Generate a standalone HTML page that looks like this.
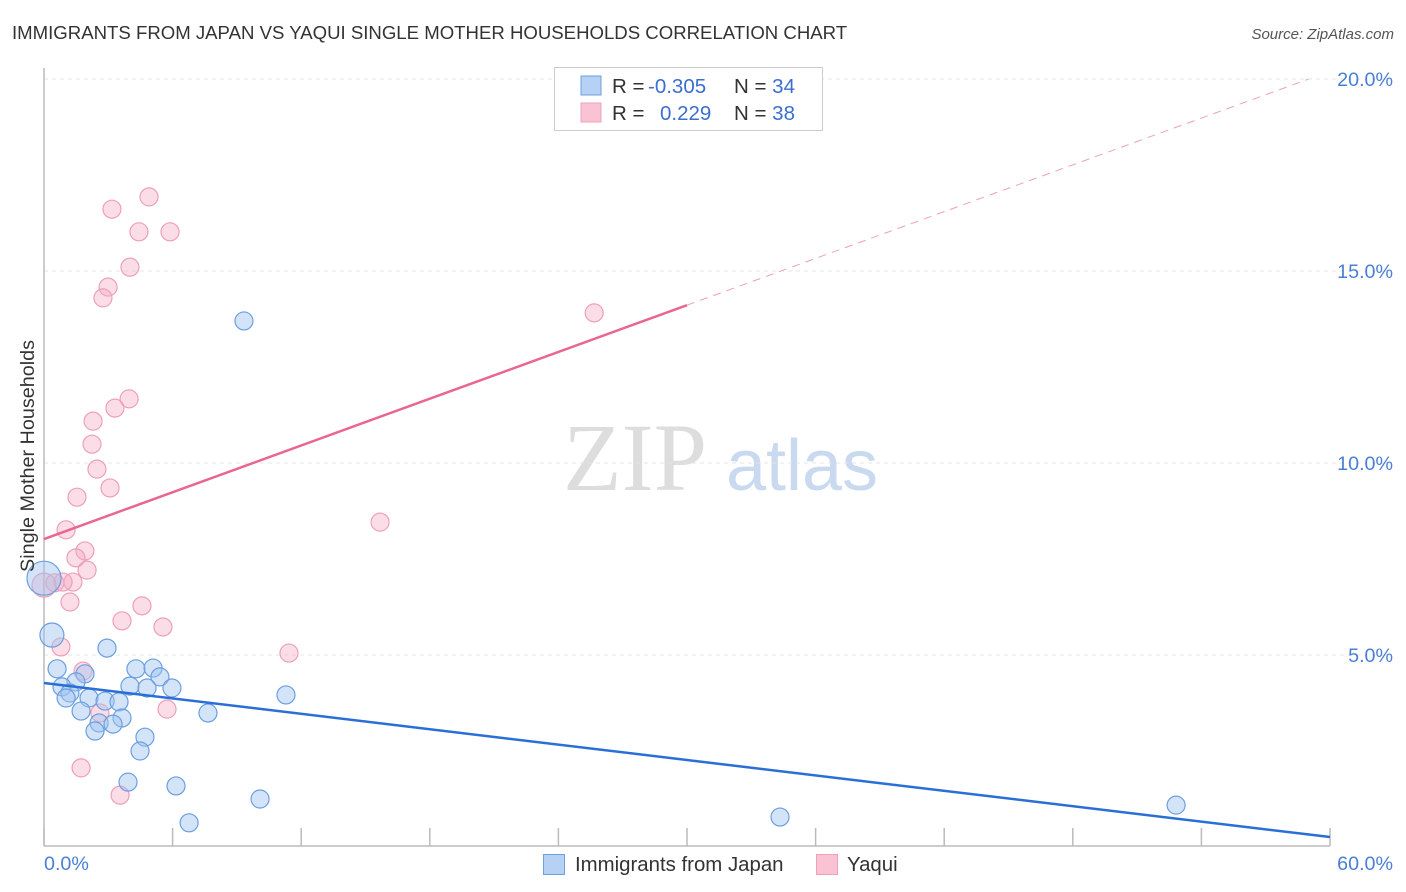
<!DOCTYPE html>
<html><head><meta charset="utf-8"><style>
body{margin:0;background:#fff;font-family:"Liberation Sans",sans-serif;}
svg{display:block}
</style></head><body>
<svg id="chart" width="1406" height="892">
<text x="12" y="39" font-size="18.6" fill="#333">IMMIGRANTS FROM JAPAN VS YAQUI SINGLE MOTHER HOUSEHOLDS CORRELATION CHART</text>
<text x="1394" y="39" font-size="15" fill="#555" font-style="italic" text-anchor="end">Source: ZipAtlas.com</text>
<g>
<text x="635" y="490" font-size="96" fill="#ddd" font-family="Liberation Serif,serif" text-anchor="middle">ZIP</text>
<text x="802" y="490" font-size="72" fill="#c9daf0" text-anchor="middle">atlas</text>
</g>
<g id="grid"></g>
<g id="axes"></g>
<g id="marks"></g>
<text transform="translate(34,456) rotate(-90)" font-size="19.8" fill="#333" text-anchor="middle">Single Mother Households</text>
<g>
<rect x="554.5" y="67.5" width="268" height="63" fill="#fff" stroke="#ccc"/>
<rect x="581" y="76" width="20" height="19" fill="#b7d1f4" stroke="#6a9fe0"/>
<rect x="581" y="103" width="20" height="19" fill="#f9c3d3" stroke="#eea0b8"/>
<text x="612" y="93" font-size="20.5" fill="#333">R = <tspan fill="#3a6fd0" x="648">-0.305</tspan></text>
<text x="734" y="93" font-size="20.5" fill="#333">N = <tspan fill="#3a6fd0">34</tspan></text>
<text x="612" y="120" font-size="20.5" fill="#333">R = <tspan fill="#3a6fd0" x="660">0.229</tspan></text>
<text x="734" y="120" font-size="20.5" fill="#333">N = <tspan fill="#3a6fd0">38</tspan></text>
</g>
<g>
<rect x="543.5" y="854.5" width="21" height="20" fill="#b7d1f4" stroke="#6a9fe0"/>
<text x="575" y="871" font-size="20.4" fill="#333">Immigrants from Japan</text>
<rect x="816.5" y="854.5" width="21" height="20" fill="#f9c3d3" stroke="#eea0b8"/>
<text x="847" y="871" font-size="20.4" fill="#333">Yaqui</text>
</g>
</svg>
<script>
const yTicks=[5,10,15,20];
const yTickLabels=["5.0%","10.0%","15.0%","20.0%"];
const xTicks=[0,6,12,18,24,30,36,42,48,54,60];
const japanX=[0,0.37,2.94,0.61,1.91,1.49,0.84,1.21,1.03,4.29,5.09,5.41,4.01,4.81,5.97,2.10,2.85,3.50,1.73,3.64,2.57,3.22,2.38,4.71,4.48,7.65,11.29,3.92,6.16,10.08,6.77,9.33,34.34,52.82];
const japanY=[7.0,5.52,5.18,4.64,4.51,4.30,4.17,4.01,3.88,4.64,4.66,4.43,4.19,4.14,4.14,3.88,3.80,3.78,3.54,3.36,3.23,3.20,3.02,2.86,2.50,3.49,3.96,1.69,1.59,1.25,0.63,13.70,0.78,1.09];
const japanR=[17,12,9,9,9,9,9,9,9,9,9,9,9,9,9,9,9,9,9,9,9,9,9,9,9,9,9,9,9,9,9,9,9,9];
const yaquiX=[0,1.91,1.49,2.01,0.51,1.35,0.89,1.21,4.57,3.64,5.55,0.79,11.43,1.82,5.74,2.61,1.73,3.55,4.90,3.17,4.43,5.88,4.01,2.99,2.75,25.67,3.97,3.31,2.29,2.24,2.47,3.08,1.54,1.03,15.68];
const yaquiY=[6.82,7.71,7.53,7.21,6.88,6.90,6.90,6.38,6.28,5.89,5.73,5.21,5.05,4.58,3.59,3.49,2.06,1.35,16.93,16.61,16.02,16.02,15.10,14.58,14.30,13.91,11.67,11.43,11.09,10.49,9.84,9.35,9.11,8.26,8.46];
const japanTrend=[4.27,0.26];
const yaquiTrend=[8.02,20.2];
const NS="http://www.w3.org/2000/svg";
const X=v=>44+v*(1286/60);
const Y=v=>847-v*38.4;
function mk(tag,attrs,parent){const e=document.createElementNS(NS,tag);for(const k in attrs)e.setAttribute(k,attrs[k]);document.getElementById(parent).appendChild(e);return e;}
yTicks.forEach((t,i)=>{
 const g=mk('line',{x1:44,x2:1394,y1:Y(t),y2:Y(t),stroke:'#e4e4e4','stroke-dasharray':'4,4'},'grid');
 
 
 const l=mk('text',{x:1393,y:Y(t)+7,'font-size':19.7,fill:'#4a7fd6','text-anchor':'end'},'axes');
 l.textContent=yTickLabels[i];
 
 
});
const ax=mk('line',{x1:44,x2:44,y1:68,y2:846,stroke:'#bbb','stroke-width':1.5},'axes');


const bx=mk('line',{x1:44,x2:1330,y1:846,y2:846,stroke:'#bbb','stroke-width':1.5},'axes');


xTicks.forEach(t=>{
 const tk=mk('line',{x1:X(t),x2:X(t),y1:828,y2:846,stroke:'#bbb','stroke-width':1.5},'axes');
 
 
});
const x0=mk('text',{x:44,y:870,'font-size':19.7,fill:'#4a7fd6'},'axes');x0.textContent='0.0%';


const x1=mk('text',{x:1393,y:870,'font-size':19.7,fill:'#4a7fd6','text-anchor':'end'},'axes');x1.textContent='60.0%';


yaquiX.forEach((x,i)=>{
 const c=mk('circle',{cx:X(x),cy:Y(yaquiY[i]),r:i==0?12:9,fill:'rgba(245,170,195,0.4)',stroke:'#eea0b8','stroke-width':1.2},'marks');
 
 
});
japanX.forEach((x,i)=>{
 const c=mk('circle',{cx:X(x),cy:Y(japanY[i]),r:japanR[i],fill:'rgba(160,196,240,0.45)',stroke:'#6a9fe0','stroke-width':1.2},'marks');
 
 
});
const jl=mk('line',{x1:X(0),y1:Y(japanTrend[0]),x2:X(60),y2:Y(japanTrend[1]),stroke:'#2a6fd6','stroke-width':2.5},'marks');


const ym=yaquiTrend[0]+(yaquiTrend[1]-yaquiTrend[0])*0.5;
const yl=mk('line',{x1:X(0),y1:Y(yaquiTrend[0]),x2:X(30),y2:Y(ym),stroke:'#e8668f','stroke-width':2.5},'marks');


const yd=mk('line',{x1:X(30),y1:Y(ym),x2:X(59),y2:Y(yaquiTrend[0]+(yaquiTrend[1]-yaquiTrend[0])*59/60),stroke:'#eea0b8','stroke-width':1,'stroke-dasharray':'8,6'},'marks');


</script>
</body></html>
